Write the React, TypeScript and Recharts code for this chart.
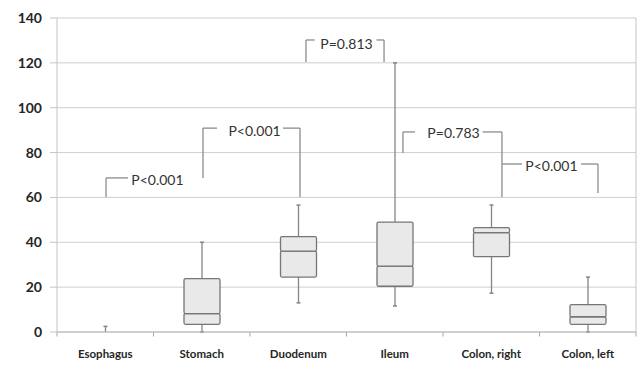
import React from 'react';
import {
    ComposedChart,
    Bar,
    XAxis,
    YAxis,
    CartesianGrid,
    ReferenceLine,
    ReferenceDot,
} from 'recharts';

// box plot values per site
const sites = ['Esophagus', 'Stomach', 'Duodenum', 'Ileum', 'Colon, right', 'Colon, left'];
const mins = [0, 0, 13, 11.6, 17.3, 0];
const q1s = [0, 3.4, 24.5, 20.4, 33.6, 3.4];
const medians = [0, 8.2, 36.1, 29.4, 44.3, 6.8];
const q3s = [0, 23.8, 42.5, 49, 46.5, 12.2];
const maxs = [2.5, 40, 56.6, 120, 56.6, 24.5];

const yTicks = [0, 20, 40, 60, 80, 100, 120, 140];
const boundaries = [0, 1, 2, 3, 4, 5, 6];

// comparison brackets, x in category units (0..6), y in axis values
const bracketPaths: [number, number][][] = [
    [[0.508, 60.2], [0.508, 68.7], [0.736, 68.7]],
    [[1.513, 68.7], [1.513, 90.9], [1.658, 90.9]],
    [[2.342, 90.9], [2.518, 90.9], [2.518, 60.2]],
    [[2.58, 120.4], [2.58, 130.2], [2.67, 130.2]],
    [[3.31, 130.2], [3.389, 130.2], [3.389, 120.4]],
    [[3.585, 79.8], [3.585, 89.2], [3.71, 89.2]],
    [[4.41, 89.2], [4.611, 89.2], [4.611, 60.2]],
    [[4.611, 74.9], [4.819, 74.9]],
    [[5.43, 74.9], [5.606, 74.9], [5.606, 62]],
];
const pLabels = ['P<0.001', 'P<0.001', 'P=0.813', 'P=0.783', 'P<0.001'];
const pLabelX = [1.041, 2.047, 3.0, 4.109, 5.124];
const pLabelY = [67.6, 89.8, 128.6, 88.8, 73.8];

const data = sites.map((site, i) => ({
    site,
    slot: i + 0.5,
    base: mins[i],
    lower: q1s[i] - mins[i],
    boxLow: medians[i] - q1s[i],
    boxHigh: q3s[i] - medians[i],
    upper: maxs[i] - q3s[i],
}));

const whiskerColor = '#858585';
const boxStroke = '#767676';

const whisker = (capAtTop: boolean) => (props: any) => {
    const { x, y, width, height } = props;
    if (!height || height <= 0) return <g />;
    const cx = x + width / 2;
    const capY = capAtTop ? y : y + height;
    return (
        <g>
            <line x1={cx} x2={cx} y1={y} y2={y + height} stroke={whiskerColor} strokeWidth={1.3} />
            <line x1={cx - 2} x2={cx + 2} y1={capY} y2={capY} stroke={whiskerColor} strokeWidth={1.5} />
        </g>
    );
};

const boxPart = (props: any) => {
    const { x, y, width, height } = props;
    if (!height || height <= 0) return <g />;
    return (
        <rect x={x + 0.5} y={y} width={width - 1} height={height} rx={1.5}
            fill="#e9e9e9" stroke={boxStroke} strokeWidth={1.3} />
    );
};

const App: React.FC = () => {
    const segments: { a: [number, number]; b: [number, number] }[] = [];
    bracketPaths.forEach(path => {
        for (let i = 0; i < path.length - 1; i++) segments.push({ a: path[i], b: path[i + 1] });
    });

    return (
        <div style={{ position: 'absolute', left: 0, top: 0, width: 640, height: 367, background: '#fff', fontFamily: 'Lato, sans-serif' }}>
            <ComposedChart width={640} height={367} data={data} margin={{ top: 18, right: 4, left: 0, bottom: 0 }} barSize={37}>
                <CartesianGrid vertical={false} stroke="#cfcfcf" />
                <XAxis xAxisId="cat" dataKey="site" height={35} tickLine={false} tickSize={0} tickMargin={18}
                    axisLine={{ stroke: '#b8b8b8' }}
                    tick={{ fontSize: 11.5, fontWeight: 700, fill: '#262626' }} interval={0} />
                <XAxis xAxisId="pos" dataKey="slot" type="number" scale="linear" domain={[0, 6]} ticks={boundaries}
                    allowDataOverflow orientation="top" height={0} tick={false} tickLine={false} axisLine={false} />
                <YAxis width={57} domain={[0, 140]} ticks={yTicks} interval={0}
                    tickSize={7} tickMargin={8} tickLine={{ stroke: '#c4c4c4' }}
                    axisLine={{ stroke: '#c4c4c4' }}
                    tick={{ fontSize: 14, fontWeight: 700, fill: '#262626' }} />

                <Bar xAxisId="cat" dataKey="base" stackId="box" fill="none" isAnimationActive={false} shape={() => <g />} />
                <Bar xAxisId="cat" dataKey="lower" stackId="box" isAnimationActive={false} shape={whisker(false)} />
                <Bar xAxisId="cat" dataKey="boxLow" stackId="box" isAnimationActive={false} shape={boxPart} />
                <Bar xAxisId="cat" dataKey="boxHigh" stackId="box" isAnimationActive={false} shape={boxPart} />
                <Bar xAxisId="cat" dataKey="upper" stackId="box" isAnimationActive={false} shape={whisker(true)} />

                <ReferenceLine xAxisId="pos" x={6} stroke="#c4c4c4" ifOverflow="visible" />
                {boundaries.map(b => (
                    <ReferenceLine key={'t' + b} xAxisId="pos" ifOverflow="visible" stroke="#a8a8a8"
                        segment={[{ x: b, y: 0 }, { x: b, y: -2 }]} />
                ))}
                {segments.map((s, i) => (
                    <ReferenceLine key={'s' + i} xAxisId="pos" ifOverflow="visible" stroke="#8c8c8c" strokeWidth={1.3}
                        segment={[{ x: s.a[0], y: s.a[1] }, { x: s.b[0], y: s.b[1] }]} />
                ))}
                {pLabels.map((t, i) => (
                    <ReferenceDot key={'p' + i} xAxisId="pos" x={pLabelX[i]} y={pLabelY[i]} r={0}
                        fill="none" stroke="none" ifOverflow="visible"
                        label={{ value: t, position: 'center', fontSize: 14, fill: '#333' }} />
                ))}
            </ComposedChart>
        </div>
    );
};

export default App;
